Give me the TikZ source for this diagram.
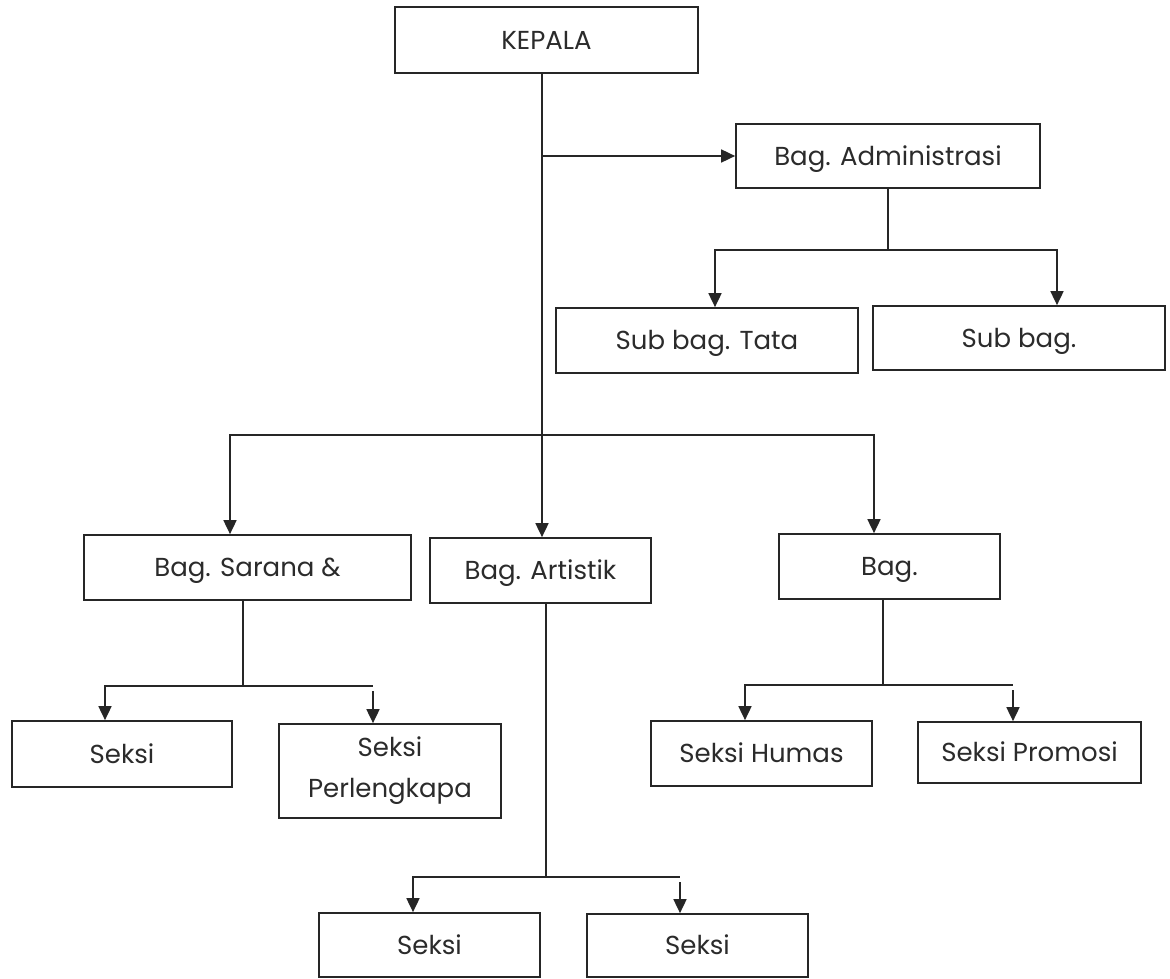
\documentclass[tikz,border=0pt]{standalone}
\usepackage{fontspec}
\setmainfont{Poppins}
\usetikzlibrary{arrows.meta,calc}
\definecolor{linec}{HTML}{262626}
\definecolor{textc}{HTML}{2B2B2B}
\begin{document}
\begin{tikzpicture}[x=1pt,y=-1pt]
\tikzset{
  orgbase/.style={draw=linec, line width=1.7pt, inner sep=0pt, text=textc,
    font=\fontsize{26}{41}\selectfont, align=center},
  orgbox/.style={orgbase, text height=18.5pt, text depth=0pt},
  conn/.style={draw=linec, line width=1.7pt},
  arr/.style={conn, -{Triangle[width=13pt,length=14pt]}}
}
\useasboundingbox[fill=white] (0,0) rectangle (1170,979);

% boxes
\node[orgbox, minimum width=303, minimum height=66] (kepala) at (546.5,40) {KEPALA};
\node[orgbox, minimum width=304, minimum height=64] (adm) at (888,156) {Bag. Administrasi};
\node[orgbox, minimum width=302, minimum height=65] (tata) at (707,340.5) {Sub bag. Tata};
\node[orgbox, minimum width=292, minimum height=64] (subbag) at (1019,338) {Sub bag.};
\node[orgbox, minimum width=327, minimum height=65] (sarana) at (247.5,567.5) {Bag. Sarana \&};
\node[orgbox, minimum width=221, minimum height=65] (artistik) at (540.5,570.5) {Bag. Artistik};
\node[orgbox, minimum width=221, minimum height=65] (bag) at (889.5,566.5) {Bag.};
\node[orgbox, minimum width=220, minimum height=66] (seksiA) at (122,754) {Seksi};
\node[orgbase, minimum width=222, minimum height=94] (perl) at (390,771) {Seksi\\Perlengkapa};
\node[orgbox, minimum width=221, minimum height=65] (humas) at (761.5,753.5) {Seksi Humas};
\node[orgbox, minimum width=223, minimum height=61] (promosi) at (1029.5,752.5) {Seksi Promosi};
\node[orgbox, minimum width=221, minimum height=64] (seksiC) at (429.5,945) {Seksi};
\node[orgbox, minimum width=221, minimum height=63] (seksiD) at (697.5,945.5) {Seksi};

% helper coordinates
\coordinate (xm) at (542,0);
\coordinate (h1) at (0,435);
\coordinate (xa) at (230,0);
\coordinate (xb) at (874,0);
\coordinate (h2) at (0,250);
\coordinate (xt) at (715,0);
\coordinate (xs) at (1057,0);
\coordinate (xsv) at (243,0);
\coordinate (h3) at (0,686);
\coordinate (xl3) at (105,0);
\coordinate (xr3) at (373,0);
\coordinate (xbv) at (883,0);
\coordinate (h4) at (0,685);
\coordinate (xl4) at (745,0);
\coordinate (xr4) at (1013,0);
\coordinate (xav) at (546,0);
\coordinate (h5) at (0,877);
\coordinate (xl5) at (413,0);
\coordinate (xr5) at (680,0);

% main trunk
\draw[arr] (kepala.south -| xm) -- (artistik.north -| xm);
\draw[arr] (adm.west -| xm) -- (adm.west);
\draw[arr] (h1 -| xm) -| (sarana.north -| xa);
\draw[arr] (h1 -| xm) -| (bag.north -| xb);

% administrasi
\draw[conn] (adm.south) -- (adm.south |- h2);
\draw[arr] (adm.south |- h2) -| (tata.north -| xt);
\draw[arr] (adm.south |- h2) -| (subbag.north -| xs);

% sarana
\draw[conn] (sarana.south -| xsv) -- (h3 -| xsv);
\draw[arr] (h3 -| xsv) -| (seksiA.north -| xl3);
\draw[conn] (h3 -| xsv) -- (h3 -| xr3);
\draw[arr] ($(h3 -| xr3)+(0,5)$) -- (perl.north -| xr3);

% bag.
\draw[conn] (bag.south -| xbv) -- (h4 -| xbv);
\draw[arr] (h4 -| xbv) -| (humas.north -| xl4);
\draw[conn] (h4 -| xbv) -- (h4 -| xr4);
\draw[arr] ($(h4 -| xr4)+(0,5)$) -- (promosi.north -| xr4);

% artistik
\draw[conn] (artistik.south -| xav) -- (h5 -| xav);
\draw[arr] (h5 -| xav) -| (seksiC.north -| xl5);
\draw[conn] (h5 -| xav) -- (h5 -| xr5);
\draw[arr] ($(h5 -| xr5)+(0,5)$) -- (seksiD.north -| xr5);
\end{tikzpicture}
\end{document}
